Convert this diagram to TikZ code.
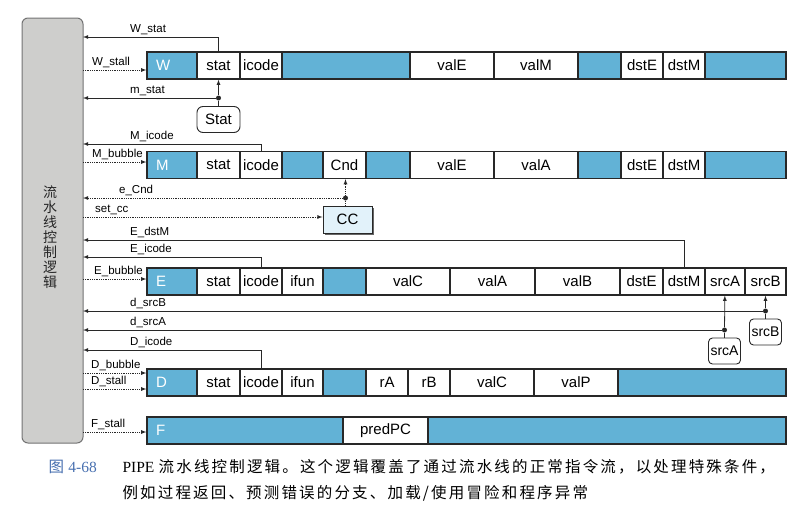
\documentclass[tikz,border=0pt]{standalone}
\usepackage{fontspec}
\setmainfont{Liberation Sans}
\newfontfamily\cjk{Noto Sans CJK SC}
\newfontfamily\cjkweit[LetterSpace=14]{Noto Sans CJK SC}
\newfontfamily\serifschrift{Liberation Serif}
\usetikzlibrary{shadows}

\definecolor{regblau}{RGB}{98,178,214}
\definecolor{logikgrau}{RGB}{206,206,204}
\definecolor{ccblau}{RGB}{226,242,250}
\definecolor{bildblau}{RGB}{72,112,176}
\definecolor{linie}{RGB}{40,40,40}

\tikzset{
    zelle/.style={draw=linie, line width=1.3pt, fill=white, minimum height=27pt, inner sep=0pt, font=\fontsize{15}{18}\selectfont},
    stufe/.style={zelle, fill=regblau, text=white, minimum width=50pt, text width=32pt, align=left},
    quelle/.style={draw=linie, line width=0.9pt, fill=white, rounded corners=4pt, minimum height=26pt, inner sep=3pt, font=\fontsize{15}{18}\selectfont},
    punkt/.style={circle, fill=linie, inner sep=0pt, minimum size=5pt},
    leitung/.style={draw=linie, line width=0.8pt},
    steuerung/.style={leitung, densely dotted},
    signaltext/.style={anchor=south west, inner sep=2pt, font=\fontsize{11.5}{13}\selectfont}
}

\begin{document}
\begin{tikzpicture}[x=1pt, y=-1pt]
    \useasboundingbox (0,0) rectangle (800,509);

    % Steuerlogik
    \node [minimum width=61pt, minimum height=425pt, rounded corners=6pt, fill=logikgrau, draw=black!55, line width=1pt] (steuerlogik) at (52.5,230.5) {};
    \node [font=\cjk\fontsize{14}{15}\selectfont, align=center, text=black!85] (logiktext) at (50,237) {流\\水\\线\\控\\制\\逻\\辑};

    % Pipelineregister
    \foreach \stufe/\mitte in {W/65.5, M/165, E/281.5, D/382.5}
        \node [stufe] (\stufe) at (172,\mitte) {\stufe};
    \node [stufe, minimum width=196pt, text width=178pt] (F) at (245,430.5) {F};

    \foreach \feld/\von/\bis/\inhalt/\farbe in {stat/197/240/stat/white, icode/240/282/icode/white, b1/282/410//regblau, valE/410/494/valE/white, valM/494/578/valM/white, b2/578/621//regblau, dstE/621/663/dstE/white, dstM/663/705/dstM/white, b3/705/786//regblau}
        \node [zelle, fill=\farbe, minimum width={(\bis-\von)*1pt}] (W-\feld) at ({(\von+\bis)/2},65.5) {\inhalt};
    \foreach \feld/\von/\bis/\inhalt/\farbe in {stat/197/240/stat/white, icode/240/282/icode/white, b1/282/323//regblau, Cnd/323/366/Cnd/white, b2/366/410//regblau, valE/410/494/valE/white, valA/494/578/valA/white, b3/578/621//regblau, dstE/621/663/dstE/white, dstM/663/705/dstM/white, b4/705/786//regblau}
        \node [zelle, fill=\farbe, minimum width={(\bis-\von)*1pt}] (M-\feld) at ({(\von+\bis)/2},165) {\inhalt};
    \foreach \feld/\von/\bis/\inhalt/\farbe in {stat/197/240/stat/white, icode/240/282/icode/white, ifun/282/323/ifun/white, b1/323/366//regblau, valC/366/450/valC/white, valA/450/535/valA/white, valB/535/620/valB/white, dstE/620/663/dstE/white, dstM/663/705/dstM/white, srcA/705/745/srcA/white, srcB/745/786/srcB/white}
        \node [zelle, fill=\farbe, minimum width={(\bis-\von)*1pt}] (E-\feld) at ({(\von+\bis)/2},281.5) {\inhalt};
    \foreach \feld/\von/\bis/\inhalt/\farbe in {stat/197/240/stat/white, icode/240/282/icode/white, ifun/282/323/ifun/white, b1/323/366//regblau, rA/366/408/rA/white, rB/408/450/rB/white, valC/450/534/valC/white, valP/534/618/valP/white, b2/618/786//regblau}
        \node [zelle, fill=\farbe, minimum width={(\bis-\von)*1pt}] (D-\feld) at ({(\von+\bis)/2},382.5) {\inhalt};
    \foreach \feld/\von/\bis/\inhalt/\farbe in {predPC/343/428/predPC/white, b1/428/786//regblau}
        \node [zelle, fill=\farbe, minimum width={(\bis-\von)*1pt}] (F-\feld) at ({(\von+\bis)/2},430.5) {\inhalt};

    % CC und Stat
    \node [quelle, fill=ccblau, sharp corners, minimum width=49pt, minimum height=27pt, drop shadow={shadow xshift=2pt, shadow yshift=-2pt, opacity=0.8, fill=black!75}] (CC) at (347.5,219.5) {CC};
    \node [quelle, minimum width=43pt, rounded corners=6pt] (Stat) at (218.5,119.5) {Stat};

    % Signale zur Steuerlogik
    \foreach \quelle/\hoehe/\signal in {W-stat/37/W\_stat, M-icode/144/M\_icode, E-dstM/240/E\_dstM, E-icode/257/E\_icode, D-icode/350/D\_icode}
    {
        \coordinate (ziel-\quelle) at (83,\hoehe);
        \draw [leitung, -latex] (\quelle.north) |- (ziel-\quelle);
        \node [signaltext] (text-\quelle) at (128,\hoehe) {\signal};
    }

    % Steuersignale zu den Registern
    \foreach \ziel/\hoehe/\signal/\links [count=\i] in {W/70/W\_stall/90, M/162/M\_bubble/90, E/279/E\_bubble/92, D/373/D\_bubble/89, D/389/D\_stall/89, F/432/F\_stall/89, CC/217/set\_cc/93}
    {
        \coordinate (start-\i) at (83,\hoehe);
        \draw [steuerung, -latex] (start-\i) -- (\ziel.west |- start-\i);
        \node [signaltext] (stext-\i) at (\links,\hoehe) {\signal};
    }

    % m_stat
    \node [punkt] (p-stat) at (218.5,98) {};
    \coordinate (ziel-mstat) at (83,98);
    \draw [leitung] (Stat) -- (p-stat);
    \draw [leitung, -latex] (p-stat) -- (W-stat);
    \draw [leitung, -latex] (p-stat) -- (ziel-mstat);
    \node [signaltext] (text-mstat) at (128,98) {m\_stat};

    % e_Cnd
    \node [punkt] (p-cnd) at (345.5,198) {};
    \coordinate (ziel-ecnd) at (83,198);
    \draw [steuerung] (CC.north -| p-cnd) -- (p-cnd);
    \draw [steuerung, -latex] (p-cnd) -- (p-cnd |- M-Cnd.south);
    \draw [steuerung, -latex] (p-cnd) -- (ziel-ecnd);
    \node [signaltext] (text-ecnd) at (117,198) {e\_Cnd};

    % srcA, srcB
    \foreach \quelle/\mx/\my/\hoehe in {srcB/765.5/332/311, srcA/724.5/351/330}
    {
        \node [quelle, font=\fontsize{14}{16}\selectfont, inner sep=2pt] (\quelle) at (\mx,\my) {\quelle};
        \node [punkt] (p-\quelle) at (\mx,\hoehe) {};
        \coordinate (ziel-\quelle) at (83,\hoehe);
        \draw [leitung] (\quelle) -- (p-\quelle);
        \draw [leitung, -latex] (p-\quelle) -- (E-\quelle);
        \draw [leitung, -latex] (p-\quelle) -- (ziel-\quelle);
        \node [signaltext] (text-\quelle) at (128,\hoehe) {d\_\quelle};
    }

    % Bildunterschrift
    \node [anchor=base west, text=bildblau, font=\fontsize{15.5}{18}\selectfont] (bildnr) at (45,472) {{\cjk 图} {\serifschrift 4-68}};
    \node [anchor=base west, text=black, font=\fontsize{15.5}{18}\selectfont] (zeile1) at (119,472) {{\serifschrift PIPE} {\cjkweit 流水线控制逻辑。这个逻辑覆盖了通过流水线的正常指令流，以处理特殊条件，}};
    \node [anchor=base west, text=black, font=\fontsize{15.5}{18}\selectfont] (zeile2) at (119,498) {\cjkweit 例如过程返回、预测错误的分支、加载/使用冒险和程序异常};

\end{tikzpicture}
\end{document}
